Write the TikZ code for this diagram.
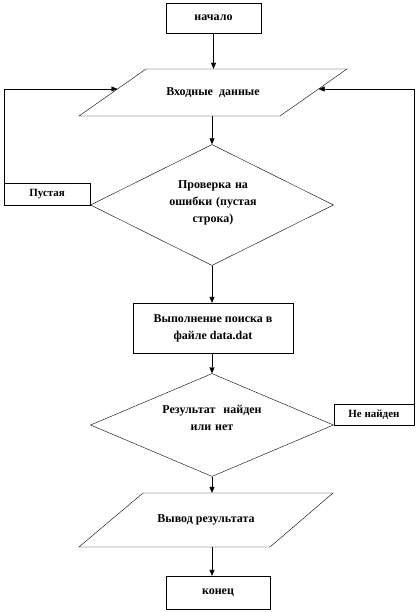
\documentclass[tikz,border=0pt]{standalone}
\usepackage{fontspec}
\setmainfont{Liberation Serif}
\usetikzlibrary{arrows.meta,shapes.geometric}

\begin{document}
\begin{tikzpicture}[x=1pt,y=-1pt, every node/.style={font=\bfseries\fontsize{12}{17}\selectfont,inner sep=0pt},
  box/.style={draw,thin,rectangle,align=center},
  decide/.style={draw,thin,diamond,align=center},
  flow/.style={-{Triangle[length=6pt,width=5pt]},thin}]
  \useasboundingbox (0,0) rectangle (416,612);
  % main column
  \node[box,minimum width=95pt,minimum height=30pt] (nStart) at (213.5,18) {начало};
  \node[minimum width=201pt,minimum height=47pt] (nInput) at (213,92.5) {Входные\ \ данные};
  \draw[thin] (79,116) -- (280,116) -- (347,69) -- (146,69) -- cycle;
  \coordinate (inLeft) at (117.5,89);
  \coordinate (inRight) at (318.5,89);
  \node[decide,minimum width=243pt,minimum height=121pt] (nCheck) at (212,205) {};
  \node[text width=100pt,align=center] (tCheck) at (213,203) {Проверка на\\ ошибки (пустая\\ строка)};
  \node[box,minimum width=160pt,minimum height=50pt] (nSearch) at (213,328) {Выполнение поиска в\\ файле data.dat};
  \node[decide,minimum width=243pt,minimum height=103pt] (nResult) at (212,425) {};
  \node[text width=120pt,align=center] (tResult) at (212,418) {Результат \ найден\\ или нет};
  \node[minimum width=190pt,minimum height=54pt] (nOutput) at (206,520) {Вывод результата};
  \draw[thin] (79,547) -- (270,547) -- (333,493) -- (143,493) -- cycle;
  \node[box,minimum width=104pt,minimum height=33pt] (nEnd) at (218,592.5) {конец};
  % branch labels
  \node[box,font=\bfseries\fontsize{11}{13}\selectfont,minimum width=86pt,minimum height=22pt,anchor=south east] (nEmpty) at (nCheck.west) {Пустая};
  \node[box,font=\bfseries\fontsize{11}{13}\selectfont,minimum width=80pt,minimum height=21pt,anchor=south west] (nNotFound) at (nResult.east) {Не найден};
  % connectors
  \draw[flow] (nStart) -- (nStart.south |- nInput.north);
  \draw[flow] (nInput.south -| nCheck.north) -- (nCheck.north);
  \draw[flow] (nCheck.south) -- (nCheck.south |- nSearch.north);
  \draw[flow] (nSearch.south -| nResult.north) -- (nResult.north);
  \draw[flow] (nResult.south) -- (nResult.south |- nOutput.north);
  \draw[flow] (nResult.south |- nOutput.south) -- (nResult.south |- nEnd.north);
  \draw[flow] (nEmpty.north west) |- (inLeft);
  \draw[flow] (nNotFound.north east) |- (inRight);
\end{tikzpicture}
\end{document}
